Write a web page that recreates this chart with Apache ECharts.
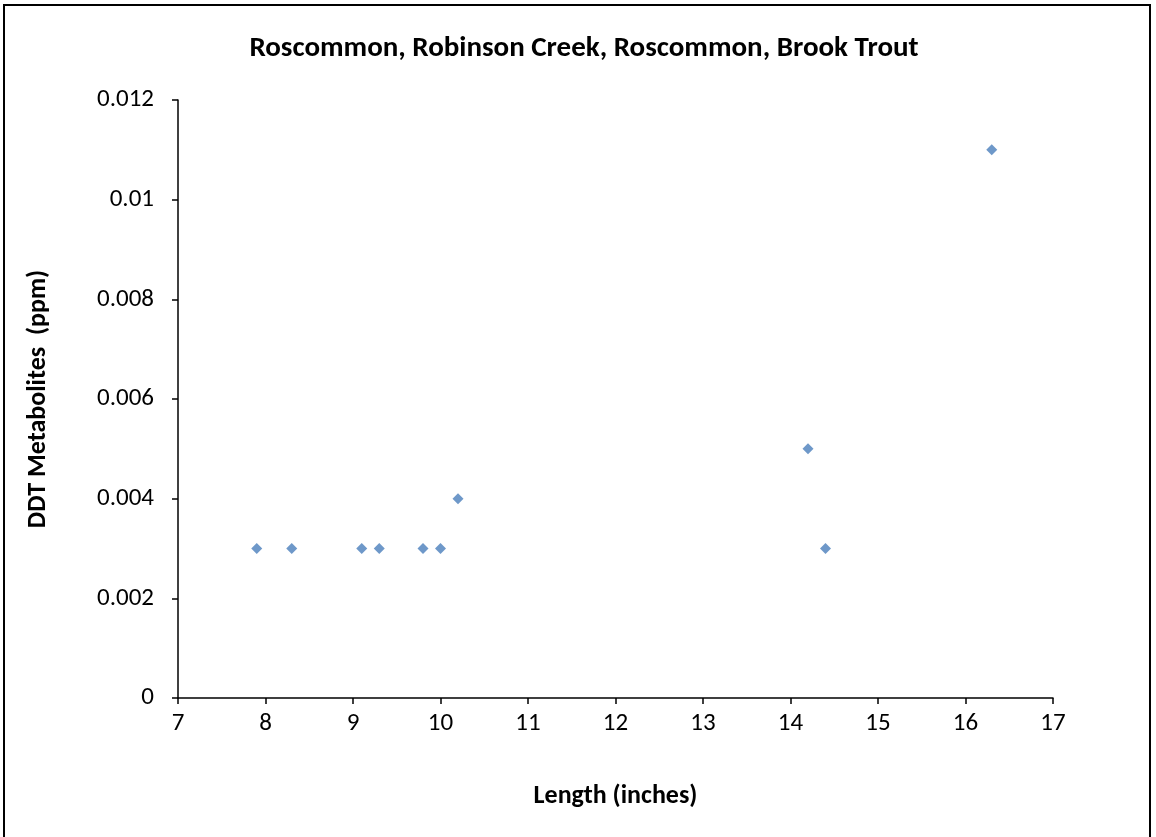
<!DOCTYPE html>
<html>
<head>
<meta charset="utf-8">
<script src="https://cdn.jsdelivr.net/npm/echarts@6/dist/echarts.min.js"></script>
<style>
  html, body { margin: 0; padding: 0; background: #fff; }
  #chart { width: 1156px; height: 837px; position: relative; }
  .frame {
    position: absolute; left: 3px; top: 4px; width: 1148px; height: 840px;
    border: 2px solid #000; box-sizing: border-box; pointer-events: none; z-index: 10;
  }
</style>
</head>
<body>
<div id="chart"></div>
<div class="frame"></div>
<script>
// length of fish (inches) and DDT metabolites (ppm)
const lengths = [7.9, 8.3, 9.1, 9.3, 9.8, 10.0, 10.2, 14.2, 14.4, 16.3];
const ddtValues = [0.003, 0.003, 0.003, 0.003, 0.003, 0.003, 0.004, 0.005, 0.003, 0.011];

const points = lengths.map((x, i) => [x, ddtValues[i]]);
const fontFam = 'Carlito, "Open Sans", "Liberation Sans", sans-serif';

const myChart = echarts.init(document.getElementById('chart'));
myChart.setOption({
  animation: false,
  title: {
    text: 'Roscommon, Robinson Creek, Roscommon, Brook Trout',
    left: 579,
    textAlign: 'center',
    top: 29,
    textStyle: { fontSize: 29, fontWeight: 'bold', color: '#000', fontFamily: fontFam }
  },
  grid: { left: 178, right: 103, top: 100, bottom: 139 },
  xAxis: {
    type: 'value',
    min: 7,
    max: 17,
    interval: 1,
    name: 'Length (inches)',
    nameLocation: 'middle',
    nameGap: 85,
    nameTextStyle: { fontSize: 26, fontWeight: 'bold', color: '#000', fontFamily: fontFam },
    axisLine: { show: true, lineStyle: { color: '#000', width: 1.5 } },
    axisTick: { show: true, length: 6, lineStyle: { color: '#000', width: 1.5 } },
    axisLabel: { fontSize: 25, color: '#000', margin: 13, fontFamily: fontFam },
    splitLine: { show: false }
  },
  yAxis: {
    type: 'value',
    min: 0,
    max: 0.012,
    interval: 0.002,
    name: 'DDT Metabolites  (ppm)',
    nameLocation: 'middle',
    nameGap: 127,
    nameTextStyle: { fontSize: 26, fontWeight: 'bold', color: '#000', fontFamily: fontFam },
    axisLine: { show: true, lineStyle: { color: '#000', width: 1.5 } },
    axisTick: { show: true, length: 6, lineStyle: { color: '#000', width: 1.5 } },
    axisLabel: {
      fontSize: 25, color: '#000', margin: 24, fontFamily: fontFam,
      formatter: v => String(parseFloat(v.toFixed(3)))
    },
    splitLine: { show: false }
  },
  series: [{
    type: 'scatter',
    data: points,
    symbol: 'diamond',
    symbolSize: 11,
    itemStyle: { color: '#4a7ebb' }
  }]
});
</script>
</body>
</html>
